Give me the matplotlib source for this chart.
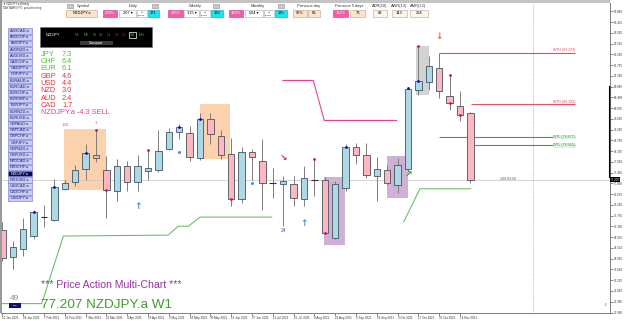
import matplotlib.pyplot as plt
from matplotlib.patches import Rectangle

plt.rcParams['font.family'] = ['Liberation Sans', 'DejaVu Sans']

# --- weekly candles NZDJPY.a, first bar = week of 10 Jan 2021 ---
opens = [75.22, 74.17, 74.48, 74.98, 75.75, 75.63, 76.85, 77.11, 77.64, 78.17,
         77.59, 76.77, 77.74, 77.11, 77.55, 77.61, 78.41, 79.10, 79.06, 78.05,
         79.61, 78.95, 78.23, 76.46, 78.30, 77.94, 77.09, 77.05, 77.05, 76.46,
         77.20, 77.19, 74.92, 76.89, 78.49, 78.18, 77.35, 77.59, 76.99, 77.64,
         80.74, 81.07, 81.63, 80.51, 80.14, 79.83]
highs = [75.55, 74.78, 75.68, 76.03, 76.19, 77.25, 77.20, 77.77, 78.60, 79.19,
         78.14, 78.01, 77.94, 78.17, 78.40, 79.19, 79.27, 79.39, 79.32, 79.86,
         79.85, 79.19, 78.86, 78.51, 78.44, 78.80, 77.68, 77.35, 77.35, 77.74,
         78.01, 77.30, 77.14, 78.60, 78.64, 78.64, 78.11, 77.77, 78.07, 80.85,
         82.51, 82.11, 82.23, 81.33, 80.70, 79.90]
lows = [74.00, 73.69, 74.19, 74.85, 75.35, 75.56, 76.82, 76.97, 77.20, 77.89,
        75.68, 76.36, 76.76, 76.76, 77.20, 77.53, 78.37, 78.80, 77.94, 78.00,
        78.60, 78.01, 76.16, 76.27, 77.20, 76.01, 76.50, 75.38, 76.16, 76.16,
        76.56, 75.05, 74.85, 76.76, 77.81, 77.29, 76.36, 76.99, 76.69, 77.53,
        80.57, 80.74, 80.44, 79.95, 79.52, 77.06]
closes = [74.13, 74.56, 75.27, 75.94, 75.76, 76.93, 77.06, 77.60, 78.27, 78.05,
          76.81, 77.74, 77.13, 77.76, 77.68, 78.34, 79.09, 79.28, 78.11, 79.59,
          79.02, 78.18, 76.46, 78.30, 78.11, 77.09, 77.09, 77.15, 76.50, 77.29,
          77.19, 75.09, 77.05, 78.51, 78.18, 77.39, 77.64, 77.09, 77.78, 80.81,
          81.11, 81.71, 80.72, 80.22, 79.78, 77.207]
last_price = 77.207

date_labels = ["10 Jan 2021", "24 Jan 2021", "7 Feb 2021", "21 Feb 2021", "7 Mar 2021",
               "21 Mar 2021", "4 Apr 2021", "18 Apr 2021", "2 May 2021", "16 May 2021",
               "30 May 2021", "13 Jun 2021", "27 Jun 2021", "11 Jul 2021", "25 Jul 2021",
               "8 Aug 2021", "22 Aug 2021", "5 Sep 2021", "19 Sep 2021", "3 Oct 2021",
               "17 Oct 2021", "31 Oct 2021", "14 Nov 2021"]
price_ticks = [83.860, 83.435, 83.010, 82.585, 82.160, 81.735, 81.310, 80.885, 80.460,
               80.035, 79.610, 79.185, 78.760, 78.335, 77.910, 77.485, 77.060, 76.635,
               76.210, 75.785, 75.360, 74.935, 74.510, 74.085, 73.660, 73.235, 72.810,
               72.385, 71.960]

# swing markers
blue_dot_bars = [3, 5, 8, 17, 19, 33, 39, 40]
red_dot_bars = [9, 10, 14, 22, 30, 31, 40, 43, 43, 44]
red_dot_prices = [79.19, 76.81, 78.40, 76.46, 78.01, 75.09, 82.51, 81.33, 80.22, 79.78]
lightblue_dot_bars = [17, 24]
lightblue_dot_prices = [78.30, 77.09]
up_arrow_bars = [13, 29]
up_arrow_prices = [76.13, 75.48]

# zones (bar from, bar to, low, high)
zone_x0 = [5.95, 18.97, 30.95, 37.0, 39.8]
zone_x1 = [9.96, 21.9, 32.97, 39.0, 41.0]
zone_lo = [76.82, 78.04, 74.62, 76.47, 80.57]
zone_hi = [79.22, 80.21, 77.32, 78.16, 82.51]
zone_col = ['#fcd2ad', '#fcd2ad', '#cfb1d6', '#cfb1d6', '#d2d2d2']

# level lines
wth_levels = [82.22, 80.18]
wth_start = [41.98, 45.06]
wth_text = ['WTH (82.223)', 'WTH (80.182)']
wtl_levels = [78.90, 78.57]
wtl_start = [41.98, 45.06]
wtl_text = ['WTL (78.877)', 'WTL (78.540)']
level_end = 55.06

magenta_x = [26.97, 29.89, 30.95, 37.9]
magenta_y = [81.13, 81.13, 79.55, 79.55]
trail1_x = [-0.3, 3.78, 5.86, 15.95, 16.91, 17.88, 19.0, 25.9]
trail1_y = [72.31, 72.31, 74.98, 75.02, 75.37, 75.37, 75.73, 75.73]
trail2_x = [38.6, 40.15, 45.03]
trail2_y = [75.55, 76.85, 76.85]

currencies = ['JPY', 'CHF', 'EUR', 'GBP', 'USD', 'NZD', 'AUD', 'CAD']
strength = [7.3, 6.4, 6.1, 4.6, 4.4, 3.0, 2.4, 1.7]

symbols = ['AUDCAD.a', 'AUDCHF.a', 'AUDJPY.a', 'AUDNZD.a', 'AUDUSD.a', 'CADCHF.a',
           'CADJPY.a', 'CHFJPY.a', 'EURAUD.a', 'EURCAD.a', 'EURCHF.a', 'EURGBP.a',
           'EURJPY.a', 'EURNZD.a', 'EURUSD.a', 'GBPAUD.a', 'GBPCAD.a', 'GBPCHF.a',
           'GBPJPY.a', 'GBPNZD.a', 'GBPUSD.a', 'NZDCAD.a', 'NZDCHF.a', 'NZDJPY.a',
           'NZDUSD.a', 'USDCAD.a', 'USDCHF.a', 'USDJPY.a']


fig = plt.figure(figsize=(6.25, 3.21), dpi=100)
fig.patch.set_facecolor('white')
ax = fig.add_axes([1 / 625, 1 - 312.5 / 321, 608.5 / 625, 309.8 / 321])
ax.set_xlim(-0.135, 58.375)
ax.set_ylim(71.989, 84.203)

# zones behind candles
for x0, x1, lo, hi, c in zip(zone_x0, zone_x1, zone_lo, zone_hi, zone_col):
    ax.add_patch(Rectangle((x0, lo), x1 - x0, hi - lo, facecolor=c, edgecolor='none', zorder=0))

ax.axhline(last_price, color='#c4c4c4', lw=0.5, zorder=1)
ax.axvline(51.05, color='#a0a0a0', lw=0.6, ls=(0, (1, 1.5)), zorder=1)

# candles
idx = list(range(len(opens)))
ax.vlines(idx, lows, highs, color='#7c7c7c', lw=0.7, zorder=2)
for i in idx:
    o, c = opens[i], closes[i]
    if abs(c - o) < 0.03:
        ax.hlines(o, i - 0.33, i + 0.33, color='#333333', lw=0.8, zorder=3)
        continue
    col = '#add8e6' if c > o else '#ffb6c1'
    ax.bar(i, c - o, bottom=o, width=0.62, color=col, edgecolor='#45545f', lw=0.6, zorder=3)

# markers
ax.scatter(blue_dot_bars, [max(opens[i], closes[i]) if i != 39 else highs[i] for i in blue_dot_bars],
           s=4, color='#0010b8', zorder=4, lw=0)
ax.scatter(red_dot_bars, red_dot_prices, s=4, color='#d3123e', zorder=4, lw=0)
ax.scatter(lightblue_dot_bars, lightblue_dot_prices, s=5, color='#4a8fe0', zorder=4, lw=0)
arrow_font = ['DejaVu Sans']
for b, p in zip(up_arrow_bars, up_arrow_prices):
    ax.text(b, p, '↑', color='#3a8fd8', fontsize=6.5, ha='center', va='center', fontweight='bold',
            family=arrow_font, zorder=4)
ax.text(27, 78.04, '↘', color='#e0206a', fontsize=6.5, ha='center', va='center', fontweight='bold',
        family=arrow_font, zorder=4)
ax.text(42, 82.87, '↓', color='#f06040', fontsize=6.5, ha='center', va='center', fontweight='bold',
        family=arrow_font, zorder=4)
ax.text(39, 77.39, '↗', color='#22aa22', fontsize=6.5, ha='center', va='center', fontweight='bold',
        family=arrow_font, zorder=4)
ax.text(6, 79.37, '150', color='#e0506e', fontsize=3.2, ha='center', va='center')
ax.text(9, 79.45, '3', color='#e0506e', fontsize=3.2, ha='center', va='center')
ax.text(27, 75.21, '24', color='#3040a0', fontsize=3.4, ha='center', va='center')

# lines
ax.plot(magenta_x, magenta_y, color='#e8409a', lw=0.8, zorder=2)
ax.plot(trail1_x, trail1_y, color='#56b956', lw=0.7, zorder=2)
ax.plot(trail2_x, trail2_y, color='#56b956', lw=0.7, zorder=2)
for lv, x0, t in zip(wth_levels, wth_start, wth_text):
    ax.hlines(lv, x0, level_end, color='#e05060', lw=0.8, zorder=2)
    ax.text(level_end, lv + 0.02, t, color='#e05060', fontsize=2.6, ha='right', va='bottom')
for lv, x0, t in zip(wtl_levels, wtl_start, wtl_text):
    ax.hlines(lv, x0, level_end, color='#3f9f3f', lw=0.8, zorder=2)
    ax.text(level_end, lv, t, color='#3f9f3f', fontsize=2.6, ha='right', va='center',
            bbox=dict(facecolor='#e2f3e2', edgecolor='none', pad=0.2))
ax.text(47.85, last_price + 0.02, '1:00:03:56', color='#555555', fontsize=2.6, ha='left', va='center')

# axes styling
ax.spines['top'].set_visible(False)
ax.spines['left'].set_visible(False)
for s in ['right', 'bottom']:
    ax.spines[s].set_color('#6a6a6a')
    ax.spines[s].set_linewidth(0.6)
ax.set_xticks(range(0, 2 * len(date_labels), 2))
ax.set_xticklabels(date_labels, ha='left')
ax.set_yticks(price_ticks)
ax.set_yticklabels(['%.3f' % p for p in price_ticks])
ax.tick_params(axis='x', labelsize=2.2, length=2, width=0.4, pad=0.8, colors='#333333')
ax.tick_params(axis='y', left=False, labelleft=False, right=True, labelright=True,
               labelsize=2.2, length=2, width=0.4, pad=1, colors='#333333')
ytr = ax.get_yaxis_transform()
ax.plot([1, 1], [77.30, 80.87], transform=ytr, color='black', lw=1.5, clip_on=False)
ax.text(1.002, last_price, '77.207', transform=ytr, fontsize=2.2, color='white', ha='left', va='center',
        bbox=dict(facecolor='black', edgecolor='none', pad=0.5))

# --- overlay panel in pixel coordinates ---
ov = fig.add_axes([0, 0, 1, 1])
ov.set_xlim(0, 625)
ov.set_ylim(321, 0)
ov.axis('off')


def box(x0, y0, x1, y1, fc, ec='#a8a8a8', text=None, tc='black', fs=2.9, lw=0.4):
    ov.add_patch(Rectangle((x0, y0), x1 - x0, y1 - y0, facecolor=fc, edgecolor=ec, lw=lw))
    if text:
        ov.text((x0 + x1) / 2, (y0 + y1) / 2, text, ha='center', va='center', fontsize=fs, color=tc)


box(0, 0, 609.5, 2.7, '#c4c4c4', ec='none')
box(0, 0, 1.5, 312.5, '#9a9a9a', ec='none')
ov.text(3, 3.6, '▼ NZDJPY.a,Weekly', fontsize=2, color='#333333', va='center')
ov.text(3, 7.6, 'DAY BAR/INFO: period starting', fontsize=2, color='#333333', va='center')

# header labels
for x, t in [(83, 'Symbol'), (133, 'Daily'), (195, 'Weekly'), (258, 'Monthly'),
             (309, 'Previous day'), (349, 'Previous 5 days'), (380, 'ADR(10)'),
             (399.5, 'AWR(12)'), (418.5, 'AMR(12)')]:
    ov.text(x, 6, t, fontsize=2.9, color='#333333', ha='center', va='center')
for x in [66.7, 151.7, 213, 278]:
    box(x, 4.3, x + 6, 7.6, '#c8c8c8', ec='#909090')

box(66, 10, 97, 17, '#fce4cc', ec='#c0a080', text='NZDJPY.a')
for x0, x1, t in [(103, 117, '209%'), (168, 183, '165%'), (229, 243, '139%'), (333, 348, '112%')]:
    box(x0, 10, x1, 17, '#ee5fa7', ec='#c04080', text=t, tc='white')
for x0, x1, t in [(119, 136, '207 ▾'), (184, 199, '315 ▾'), (245, 263, '504 ▾')]:
    box(x0, 10, x1, 17, 'white', text=t)
for x0, x1 in [(137, 147), (199.5, 209.5), (263.5, 274)]:
    box(x0, 10, x1, 17, 'white')
    ov.text((x0 + x1) / 2, 12, '+', fontsize=2.5, ha='center', va='center')
    ov.text((x0 + x1) / 2, 15, 'VALUE', fontsize=1.6, ha='center', va='center')
for x0, x1, t in [(148, 159, '171'), (211, 223, '120'), (275, 287, '195')]:
    box(x0, 10, x1, 17, '#1fe3ec', ec='#10a0a8', text=t)
for x0, x1, t in [(293, 307, '97%'), (308, 320, '66'), (350, 365, '76')]:
    box(x0, 10, x1, 17, '#fce4cc', ec='#c0a080', text=t)
for x0, x1, t in [(373, 387, '69'), (392, 407, '143'), (410, 428, '204')]:
    box(x0, 10, x1, 17, '#fff6e8', text=t)

# compact timeframe panel
box(40, 27, 152, 47, 'black', ec='#707070')
box(80, 40.7, 113, 44.9, '#3c3c3c', ec='none', text='Compact', tc='white', fs=2.6)
ov.text(46, 34.5, 'NZDJPY', fontsize=2.7, color='white', va='center')
tf_names = ['M1', 'M5', '15', '30', 'H1', 'H4', 'D1', 'W1', 'MN']
tf_x = [77, 86, 94.3, 100.7, 108.7, 116.7, 124, 132.3, 141.7]
tf_col = ['#c03060', '#30c030', '#30c030', '#30c030', '#d02040', '#a82030', '#a82030', '#30c030', '#30c030']
for n, x, c in zip(tf_names, tf_x, tf_col):
    ov.text(x, 34.5, n, fontsize=2.6, color=c, ha='center', va='center')
box(128.5, 31.5, 136, 37.5, 'none', ec='white', lw=0.5)

# symbol list
for k, s in enumerate(symbols):
    y0 = 28.3 + 6.2 * k
    sel = s == 'NZDJPY.a'
    box(7.5, y0, 31.5, y0 + 5.5, '#0a0a5a' if sel else '#c8ccf0', ec='#6b6bd0',
        text=s, tc='white' if sel else '#1a1a80', fs=2.8)

# currency strength
for k, (c, v) in enumerate(zip(currencies, strength)):
    col = '#55bb33' if v > 5 else '#ec3038'
    y = 54.3 + 7.33 * k
    ov.text(40.7, y, c, fontsize=5.3, color=col, va='center')
    ov.text(62, y, '%.1f' % v, fontsize=5.3, color=col, va='center')
ov.text(40.7, 54.3 + 7.33 * 8, 'NZDJPY.a -4.3 SELL', fontsize=5.3, color='#e03ca0', va='center')

ov.text(14, 298.5, '49', fontsize=6, color='#8a8a8a', ha='center', va='center')
box(9, 303, 21, 308, '#101070', ec='none', text='Hide', tc='white', fs=1.6)
ov.text(40.7, 285, '*** Price Action Multi-Chart ***', fontsize=7.6, color='#9b30a8', va='center')
ov.text(40.7, 304.5, '77.207 NZDJPY.a W1', fontsize=9.7, color='#3c9c2c', va='center')
ov.text(605, 305, '⊙', fontsize=3, color='#999999', ha='center', va='center')

plt.savefig('out.png', dpi=100)
